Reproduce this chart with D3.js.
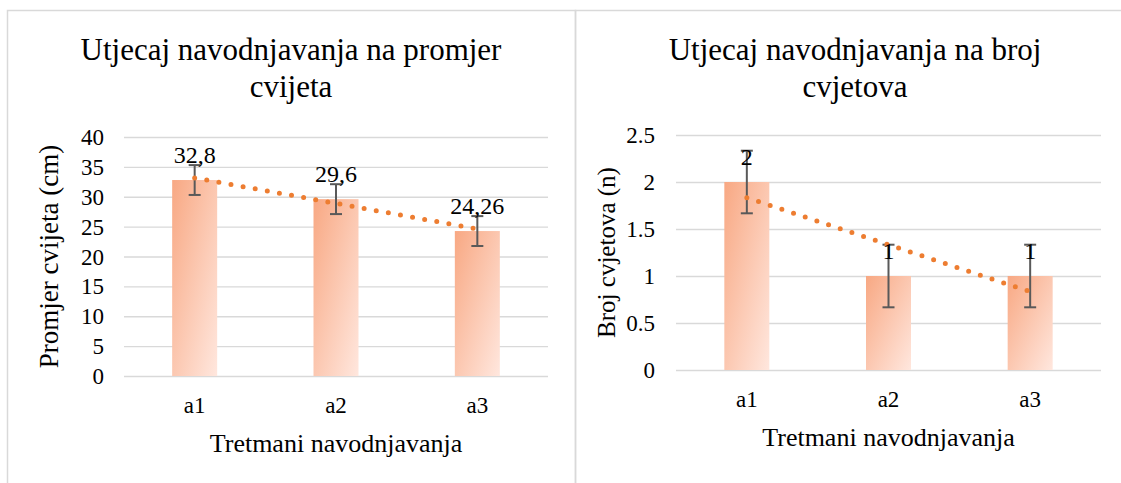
<!DOCTYPE html>
<html lang="hr">
<head>
    <meta charset="UTF-8">
    <title>Utjecaj navodnjavanja</title>
    <script src="https://d3js.org/d3.v7.min.js"></script>
    <style>
        body { margin: 0; background: #fff; }
        svg { display: block; font-family: "Liberation Serif", "Times New Roman", serif; }
        .grid line { stroke: #d9d9d9; stroke-width: 1.3; }
        .grid path { display: none; }
        .err { stroke: #595959; stroke-width: 2; }
        .trend { fill: none; stroke: #ED7D31; stroke-width: 5; stroke-linecap: round; stroke-dasharray: 0 12.3; }
    </style>
</head>
<body>
<svg id="chart"></svg>
<script>
    const width = 1121, height = 483;

    // categories and values
    const categories = ["a1", "a2", "a3"];

    const diameterValues = [32.8, 29.6, 24.26];
    const diameterLabels = ["32,8", "29,6", "24,26"];
    const diameterErrors = [2.5, 2.5, 2.5];
    const diameterTicks = [0, 5, 10, 15, 20, 25, 30, 35, 40];

    const countValues = [2, 1, 1];
    const countLabels = ["2", "1", "1"];
    const countErrors = [0.333, 0.333, 0.333];
    const countTicks = [0, 0.5, 1, 1.5, 2, 2.5];

    const svg = d3.select("#chart").attr("width", width).attr("height", height);

    // bar gradient
    const defs = svg.append("defs");
    const grad = defs.append("linearGradient")
        .attr("id", "barGrad")
        .attr("x1", 0).attr("y1", 0).attr("x2", 1).attr("y2", 1);
    grad.append("stop").attr("offset", "0%").attr("stop-color", "#F8A883");
    grad.append("stop").attr("offset", "100%").attr("stop-color", "#FFE7DE");

    // panel borders
    svg.append("rect").attr("x", 7.5).attr("y", 10.5).attr("width", 568).attr("height", 490)
        .attr("fill", "none").attr("stroke", "#d9d9d9").attr("stroke-width", 1.5);
    svg.append("rect").attr("x", 575.5).attr("y", 10.5).attr("width", 560).attr("height", 490)
        .attr("fill", "none").attr("stroke", "#d9d9d9").attr("stroke-width", 1.5);

    function drawPanel(opt) {
        const g = svg.append("g");

        const x = d3.scaleBand().domain(categories).range([opt.x0, opt.x1]);
        const y = d3.scaleLinear().domain([0, opt.yMax]).range([opt.y0, opt.yTop]);

        // title (two lines)
        g.selectAll(".title").data(opt.title).enter().append("text")
            .attr("x", opt.titleX)
            .attr("y", (d, i) => 60 + i * 37)
            .attr("text-anchor", "middle")
            .style("font-size", "31px")
            .text(d => d);

        // gridlines
        g.append("g").attr("class", "grid")
            .attr("transform", `translate(${opt.x0},0)`)
            .call(d3.axisLeft(y).tickValues(opt.ticks).tickSize(-(opt.x1 - opt.x0)).tickFormat(""));

        // y tick labels
        g.selectAll(".ytick").data(opt.ticks).enter().append("text")
            .attr("x", opt.tickRight)
            .attr("y", d => y(d))
            .attr("dy", "0.35em")
            .attr("text-anchor", "end")
            .style("font-size", "23px")
            .text(d => String(d));

        // bars
        const bw = 45;
        g.selectAll(".bar").data(opt.values).enter().append("rect")
            .attr("x", (d, i) => x(categories[i]) + x.bandwidth() / 2 - bw / 2)
            .attr("y", d => y(d))
            .attr("width", bw)
            .attr("height", d => opt.y0 - y(d))
            .attr("fill", "url(#barGrad)");

        // error bars
        const cx = i => x(categories[i]) + x.bandwidth() / 2;
        const eb = g.selectAll(".eb").data(opt.values).enter().append("g").attr("class", "err");
        eb.append("line")
            .attr("x1", (d, i) => cx(i)).attr("x2", (d, i) => cx(i))
            .attr("y1", (d, i) => y(d + opt.errors[i])).attr("y2", (d, i) => y(d - opt.errors[i]));
        eb.append("line")
            .attr("x1", (d, i) => cx(i) - 6).attr("x2", (d, i) => cx(i) + 6)
            .attr("y1", (d, i) => y(d + opt.errors[i])).attr("y2", (d, i) => y(d + opt.errors[i]));
        eb.append("line")
            .attr("x1", (d, i) => cx(i) - 6).attr("x2", (d, i) => cx(i) + 6)
            .attr("y1", (d, i) => y(d - opt.errors[i])).attr("y2", (d, i) => y(d - opt.errors[i]));

        // linear trendline fitted to the bar values
        const n = opt.values.length;
        const xs = d3.range(1, n + 1);
        const mx = d3.mean(xs), my = d3.mean(opt.values);
        const slope = d3.sum(xs, (v, i) => (v - mx) * (opt.values[i] - my)) / d3.sum(xs, v => (v - mx) * (v - mx));
        const icpt = my - slope * mx;
        g.append("path").attr("class", "trend")
            .attr("d", d3.line()([
                [cx(0), y(icpt + slope * 1)],
                [cx(n - 1), y(icpt + slope * n)]
            ]));

        // data labels
        g.selectAll(".dl").data(opt.values).enter().append("text")
            .attr("x", (d, i) => cx(i))
            .attr("y", d => y(d) - 17)
            .attr("text-anchor", "middle")
            .style("font-size", "24px")
            .text((d, i) => opt.labels[i]);

        // x tick labels
        g.selectAll(".xtick").data(categories).enter().append("text")
            .attr("x", d => x(d) + x.bandwidth() / 2)
            .attr("y", opt.y0 + 37)
            .attr("text-anchor", "middle")
            .style("font-size", "23px")
            .text(d => d);

        // axis titles
        g.append("text")
            .attr("x", (opt.x0 + opt.x1) / 2)
            .attr("y", opt.y0 + 76)
            .attr("text-anchor", "middle")
            .style("font-size", "26px")
            .text("Tretmani navodnjavanja");

        g.append("text")
            .attr("transform", `translate(${opt.yTitleX},${(opt.y0 + opt.yTop) / 2}) rotate(-90)`)
            .attr("text-anchor", "middle")
            .attr("dy", "0.35em")
            .style("font-size", opt.yTitleSize)
            .text(opt.yTitle);
    }

    drawPanel({
        title: ["Utjecaj navodnjavanja na promjer", "cvijeta"],
        titleX: 291,
        x0: 124, x1: 548, y0: 376, yTop: 137, yMax: 40,
        ticks: diameterTicks, tickRight: 104,
        values: diameterValues, labels: diameterLabels, errors: diameterErrors,
        yTitle: "Promjer cvijeta (cm)", yTitleX: 49, yTitleSize: "27px"
    });

    drawPanel({
        title: ["Utjecaj navodnjavanja na broj", "cvjetova"],
        titleX: 855,
        x0: 676, x1: 1101, y0: 370, yTop: 135, yMax: 2.5,
        ticks: countTicks, tickRight: 655,
        values: countValues, labels: countLabels, errors: countErrors,
        yTitle: "Broj cvjetova (n)", yTitleX: 606, yTitleSize: "25px"
    });
</script>
</body>
</html>
